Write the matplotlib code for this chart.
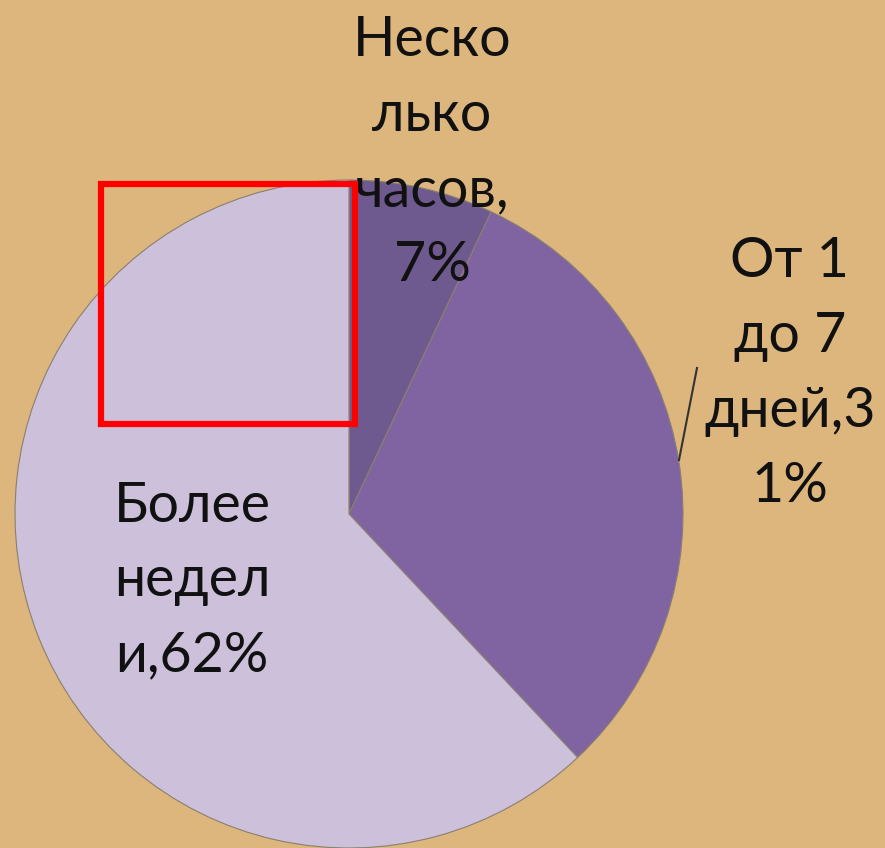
import matplotlib
matplotlib.use("Agg")
import matplotlib.pyplot as plt
from matplotlib.patches import Rectangle

categories = ["Несколько часов", "От 1 до 7 дней", "Более недели"]
values = [7, 31, 62]
display_labels = ["Неско\nлько\nчасов,\n7%", "От 1\nдо 7\nдней,3\n1%", "Более\nнедел\nи,62%"]
colors = ["#6f5a8f", "#8064a2", "#ccc0da"]

W, H = 885, 848
fig = plt.figure(figsize=(W / 100, H / 100), dpi=100)
fig.patch.set_facecolor("#dcb67d")
ax = fig.add_axes([0, 0, 1, 1])
ax.set_facecolor("#dcb67d")

cx, cy, R = 349, H - 514, 334
ax.pie(values, colors=colors, startangle=90, counterclock=False,
       radius=R, center=(cx, cy),
       wedgeprops=dict(edgecolor="#8a7f70", linewidth=0.8))
ax.set_xlim(0, W)
ax.set_ylim(0, H)
ax.set_aspect("equal")
ax.axis("off")

fam = ["Lato", "Open Sans", "DejaVu Sans"]
pos = [(432, H - 153), (790, H - 374), (192, H - 581)]
for lab, (x, y) in zip(display_labels, pos):
    ax.text(x, y, lab, ha="center", va="center", fontsize=40, family=fam,
            color="#111111", linespacing=1.58)

# leader line for the 31% label
ax.plot([679, 697], [H - 460, H - 368], color="#333333", lw=1.5)

# red highlight rectangle
ax.add_patch(Rectangle((101, H - 424), 254, 240, fill=False,
                       edgecolor="#ff0000", linewidth=4.5, zorder=5))

fig.savefig("out.png", dpi=100, facecolor=fig.get_facecolor())
